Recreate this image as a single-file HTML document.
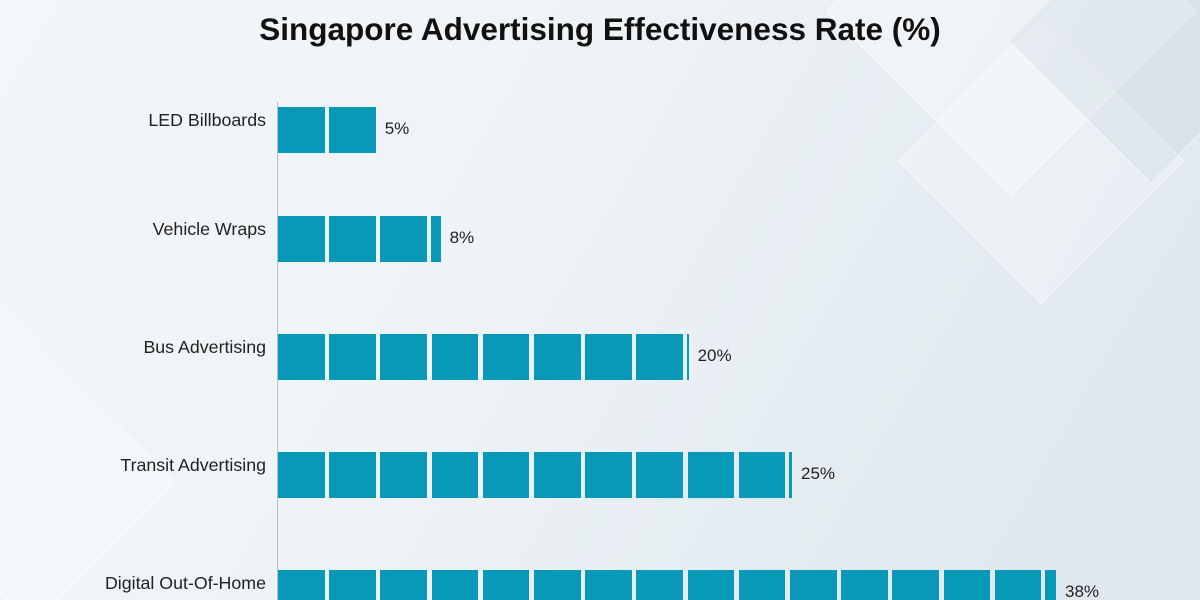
<!DOCTYPE html>
<html style="width:1200px;height:600px;overflow:hidden"><head><style>
body{margin:0;width:1200px;height:600px;overflow:hidden;position:relative;font-family:"Liberation Sans",sans-serif;
background:linear-gradient(120deg,#f4f7f9 0%,#eef3f6 40%,#e3ebf0 75%,#dfe7ee 100%);}
#w{position:absolute;left:0;top:0;width:1200px;height:600px;overflow:hidden}
.sq{position:absolute;transform:rotate(45deg);background:rgba(255,255,255,0.35);border:1px solid rgba(255,255,255,0.6)}
.t{position:absolute;left:0;width:1200px;text-align:center;top:11px;font-size:31.5px;font-weight:bold;color:#111}
.l{position:absolute;right:934px;font-size:17.8px;color:#222;white-space:nowrap}
.v{position:absolute;font-size:17px;color:#222}
.s{position:absolute;background:#0899b8;height:46px}
.ax{position:absolute;left:277px;top:102px;width:1px;height:498px;background:#b8c0c6}
</style></head><body><div id="w">
<div class="sq" style="left:880px;top:-120px;width:260px;height:260px"></div>
<div class="sq" style="left:940px;top:60px;width:200px;height:200px;background:rgba(255,255,255,0.25)"></div>
<div class="sq" style="left:1050px;top:-60px;width:200px;height:200px;background:rgba(200,212,222,0.3)"></div>
<div class="sq" style="left:-120px;top:360px;width:260px;height:200px;background:rgba(255,255,255,0.25)"></div>
<div class="t">Singapore Advertising Effectiveness Rate (%)</div>
<div class="ax"></div>
<div id="c"></div>
</div>
<script>
var d=[["LED Billboards",5,107,2,0],["Vehicle Wraps",8,216,3,10],["Bus Advertising",20,334,8,2],["Transit Advertising",25,452,10,3],["Digital Out-Of-Home",38,570,15,11]];
var h="",p=51.2,w=46.5;
d.forEach(function(r){var f=r[3],end;
var bh=r[2]==570?30:46;
for(var i=0;i<f;i++){h+='<div class="s" style="left:'+(278+i*p)+'px;top:'+r[2]+'px;width:'+w+'px;height:'+bh+'px"></div>';}
end=278+(f-1)*p+w;
if(r[4]>0){h+='<div class="s" style="left:'+(278+f*p-1)+'px;top:'+r[2]+'px;width:'+r[4]+'px;height:'+bh+'px"></div>';end=278+f*p-1+r[4];}
h+='<div class="l" style="top:'+(r[2]+3)+'px">'+r[0]+'</div>';
h+='<div class="v" style="left:'+(end+9)+'px;top:'+(r[2]+12)+'px">'+r[1]+'%</div>';});
document.getElementById("c").innerHTML=h;
</script>
</body></html>
